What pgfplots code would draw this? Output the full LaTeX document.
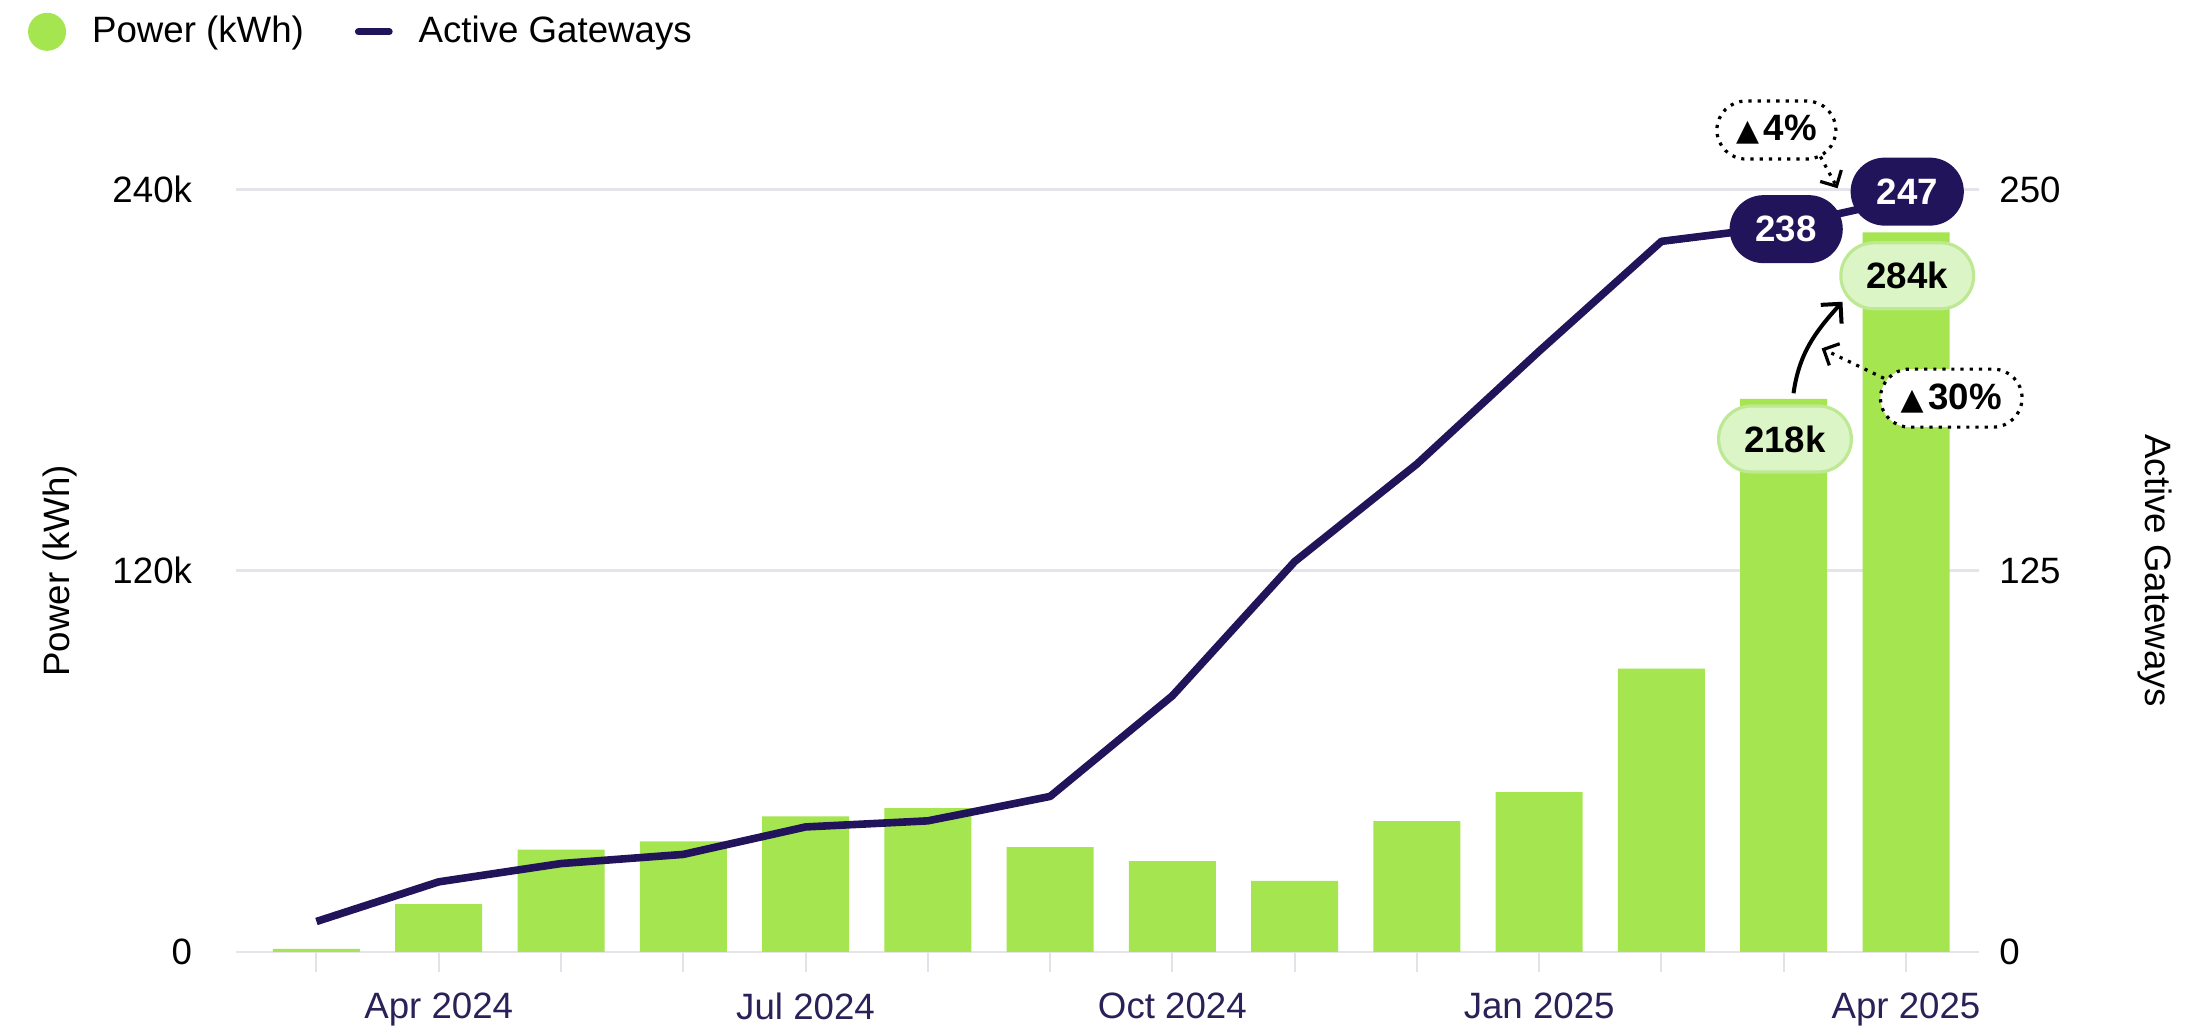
\documentclass[border=0pt]{standalone}
\usepackage{fontspec}
\setmainfont{Liberation Sans}
\newfontfamily\symfont{DejaVu Sans}
\usepackage{pgfplots}
\usepackage{pgfplotstable}
\pgfplotsset{compat=1.18}
\usetikzlibrary{arrows.meta,shapes.misc}
\definecolor{barg}{HTML}{A4E550}
\definecolor{navy}{HTML}{22145A}
\definecolor{pillg}{HTML}{DCF5C6}
\definecolor{pillgd}{HTML}{BDE993}
\definecolor{gridc}{HTML}{E4E4EA}
\definecolor{xlab}{HTML}{2A2158}
\definecolor{tickc}{HTML}{E2E2E8}

% month index, power (thousands of kWh, as drawn), active gateways
\pgfplotstableread{
x power gw
0 1.0 10
1 15.1 23
2 32.2 29
3 34.8 32
4 42.7 41
5 45.3 43
6 33.0 51
7 28.6 84
8 22.4 128
9 41.2 160
10 50.3 197
11 89.2 233
12 174.1 238
13 226.5 247
}\datatable

\newcommand{\fs}{\fontsize{9.2}{11}\selectfont}
\newcommand{\tri}{{\symfont\fontsize{7.5}{7.5}\selectfont ▲}\kern1.2bp}

\begin{document}
\begin{tikzpicture}[font=\fs,
  pilln/.style={rounded rectangle, fill=navy, text=white, font=\fs\bfseries, minimum width=28.3bp, minimum height=17bp, inner sep=0pt},
  pillgr/.style={rounded rectangle, fill=pillg, draw=pillgd, line width=0.8bp, font=\fs\bfseries, minimum width=33.2bp, minimum height=16.5bp, inner sep=0pt},
  dbox/.style={rounded rectangle, draw=black, line width=0.8bp, dash pattern=on 0.8bp off 1.5bp, fill=white, minimum height=14.5bp, inner sep=0pt, font=\fs\bfseries}]
\path[use as bounding box] (-59bp,-18.75bp) rectangle (492.5bp,238bp);
\begin{axis}[
  scale only axis, width=435.75bp, height=190.625bp,
  xmin=-0.658, xmax=13.597, ymin=0, ymax=240,
  axis line style={draw=none},
  xtick={0,...,13},
  xticklabels={,Apr 2024,,,Jul 2024,,,Oct 2024,,,Jan 2025,,,Apr 2025},
  xtick pos=bottom, tick align=outside,
  major tick length=5bp,
  x tick style={draw=tickc, line width=0.5bp},
  xticklabel style={text=xlab, inner sep=0pt, anchor=north, yshift=-5bp, font=\fs},
  ytick={0,120,240}, yticklabels={0,120k,240k},
  ytick style={draw=none},
  yticklabel style={inner sep=0pt, anchor=east, xshift=-5.8bp, font=\fs, text=black},
  ymajorgrids, grid style={draw=gridc, line width=0.7bp},
  /pgf/number format/assume math mode=true,
  ylabel={Power (kWh)},
  ylabel style={at={(axis description cs:-0.1012,0.5)}, anchor=center, inner sep=0pt, font=\fs},
  legend style={at={(axis description cs:-0.1193,1.2068)}, anchor=west, draw=none, fill=none,
    inner sep=0pt, outer sep=0pt, font=\fs,
    /tikz/every odd column/.append style={column sep=6.5bp},
    /tikz/every even column/.append style={column sep=12.75bp},
    nodes={inner sep=0pt}},
  legend columns=2, legend cell align=left,
]
\addplot[ybar, bar width=21.75bp, bar shift=0pt, fill=barg, draw=none,
  legend image code/.code={\fill[barg] (4.75bp,0bp) circle (4.75bp);}]
  table[x=x, y=power]{\datatable};
\addlegendentry{Power (kWh)}
\addlegendimage{legend image code/.code={\draw[navy, line width=1.75bp, line cap=round] (0.9bp,0bp) -- (8.6bp,0bp);}}
\addlegendentry{Active Gateways}
\end{axis}
\begin{axis}[
  scale only axis, width=435.75bp, height=190.625bp,
  xmin=-0.658, xmax=13.597, ymin=0, ymax=250,
  axis line style={draw=none}, hide x axis,
  ytick={0,125,250}, yticklabels={0,125,250},
  ytick pos=right, yticklabel pos=right,
  ytick style={draw=none},
  yticklabel style={inner sep=0pt, anchor=west, xshift=4.9bp, font=\fs, text=black},
  /pgf/number format/assume math mode=true,
  ylabel={Active Gateways},
  ylabel style={at={(axis description cs:1.1007,0.5)}, anchor=center, inner sep=0pt, rotate=180, font=\fs},
  clip=false,
]
\addplot[navy, line width=1.9bp, line join=round, no marks] table[x=x, y=gw]{\datatable};
% change annotations
\draw[line width=0.8bp, dash pattern=on 0.8bp off 1.5bp, -{Straight Barb[length=3bp, width=6bp]}] (axis cs:12.30,260.8) -- (axis cs:12.44,250.4);
\draw[line width=0.8bp, dash pattern=on 0.8bp off 1.5bp, -{Straight Barb[length=3bp, width=6bp]}] (axis cs:12.82,188.1) -- (axis cs:12.31,197.9);
\draw[line width=1bp, -{Straight Barb[length=3.5bp, width=7bp]}] (axis cs:12.08,183.2) to[out=82, in=228] (axis cs:12.48,213.2);
\node[pillgr] at (axis cs:12.01,168.2) {218k};
\node[pillgr] at (axis cs:13.01,221.7) {284k};
\node[pilln] at (axis cs:12.02,237.0) {238};
\node[pilln] at (axis cs:13.01,249.3) {247};
\node[dbox, minimum width=29.75bp] at (axis cs:11.94,269.5) {\tri 4\%};
\node[dbox, minimum width=35.4bp] at (axis cs:13.37,181.6) {\tri 30\%};
\end{axis}
\end{tikzpicture}
\end{document}
